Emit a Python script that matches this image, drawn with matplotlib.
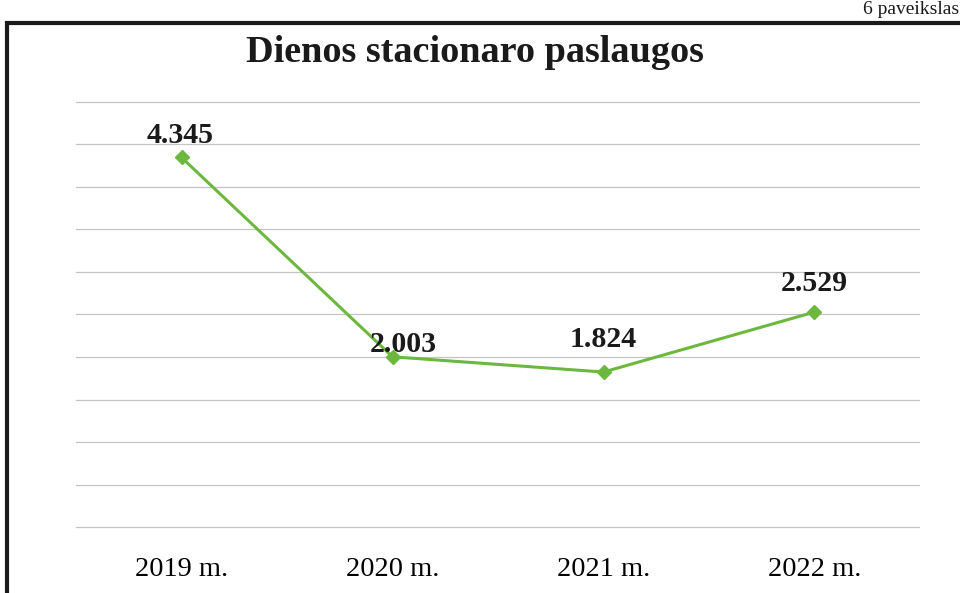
import matplotlib
matplotlib.use("Agg")
import matplotlib.pyplot as plt
from matplotlib.patches import Rectangle

categories = ["2019 m.", "2020 m.", "2021 m.", "2022 m."]
values = [4.345, 2.003, 1.824, 2.529]
labels = ["4.345", "2.003", "1.824", "2.529"]
title = "Dienos stacionaro paslaugos"

plt.rcParams['font.family'] = ['Liberation Serif', 'DejaVu Serif']

W, H = 960, 593
fig = plt.figure(figsize=(W/100, H/100), dpi=100)
fig.patch.set_facecolor('white')

ax = fig.add_axes([76/W, 1-529/H, (920-76)/W, (529-100)/H])
ax.set_xlim(-0.5, 3.5)
ax.set_ylim(-0.02, 5.02)
ax.set_yticks([i*0.5 for i in range(11)])
ax.yaxis.grid(True, color='#c4c4c4', lw=0.9)
ax.set_axisbelow(True)
for s in ax.spines.values():
    s.set_visible(False)
ax.tick_params(axis='y', left=False, labelleft=False)
ax.tick_params(axis='x', bottom=False, labelsize=20.5, pad=17)
x = list(range(len(categories)))
ax.set_xticks(x)
ax.set_xticklabels(categories)

ax.plot(x, values, color='#6cb83e', lw=2.2, marker='D', ms=7, mec='#6cb83e', mfc='#6cb83e', zorder=3)

offsets = [(-1, 15.5), (8, 8.5), (0, 23.5), (0, 20.5)]
for xi, v, lab, off in zip(x, values, labels, offsets):
    ax.annotate(lab, (xi, v), xytext=off, textcoords='offset points', ha='center',
                va='center', fontsize=21.5, fontweight='bold', color='#1a1a1a', zorder=4)

fig.text(475/W, 1-53/H, title, ha='center', va='center', fontsize=27.5, fontweight='bold', color='#1a1a1a')

# frame
fig.patches.append(Rectangle((7/W, -0.1), 1.2, 1.1 - 23/H, transform=fig.transFigure,
                             fill=False, ec='#1a1a1a', lw=3))
fig.text(0.999, 0.999, "6 paveikslas", ha='right', va='top', fontsize=14, color='#1a1a1a')

fig.savefig("out.png", dpi=100)
